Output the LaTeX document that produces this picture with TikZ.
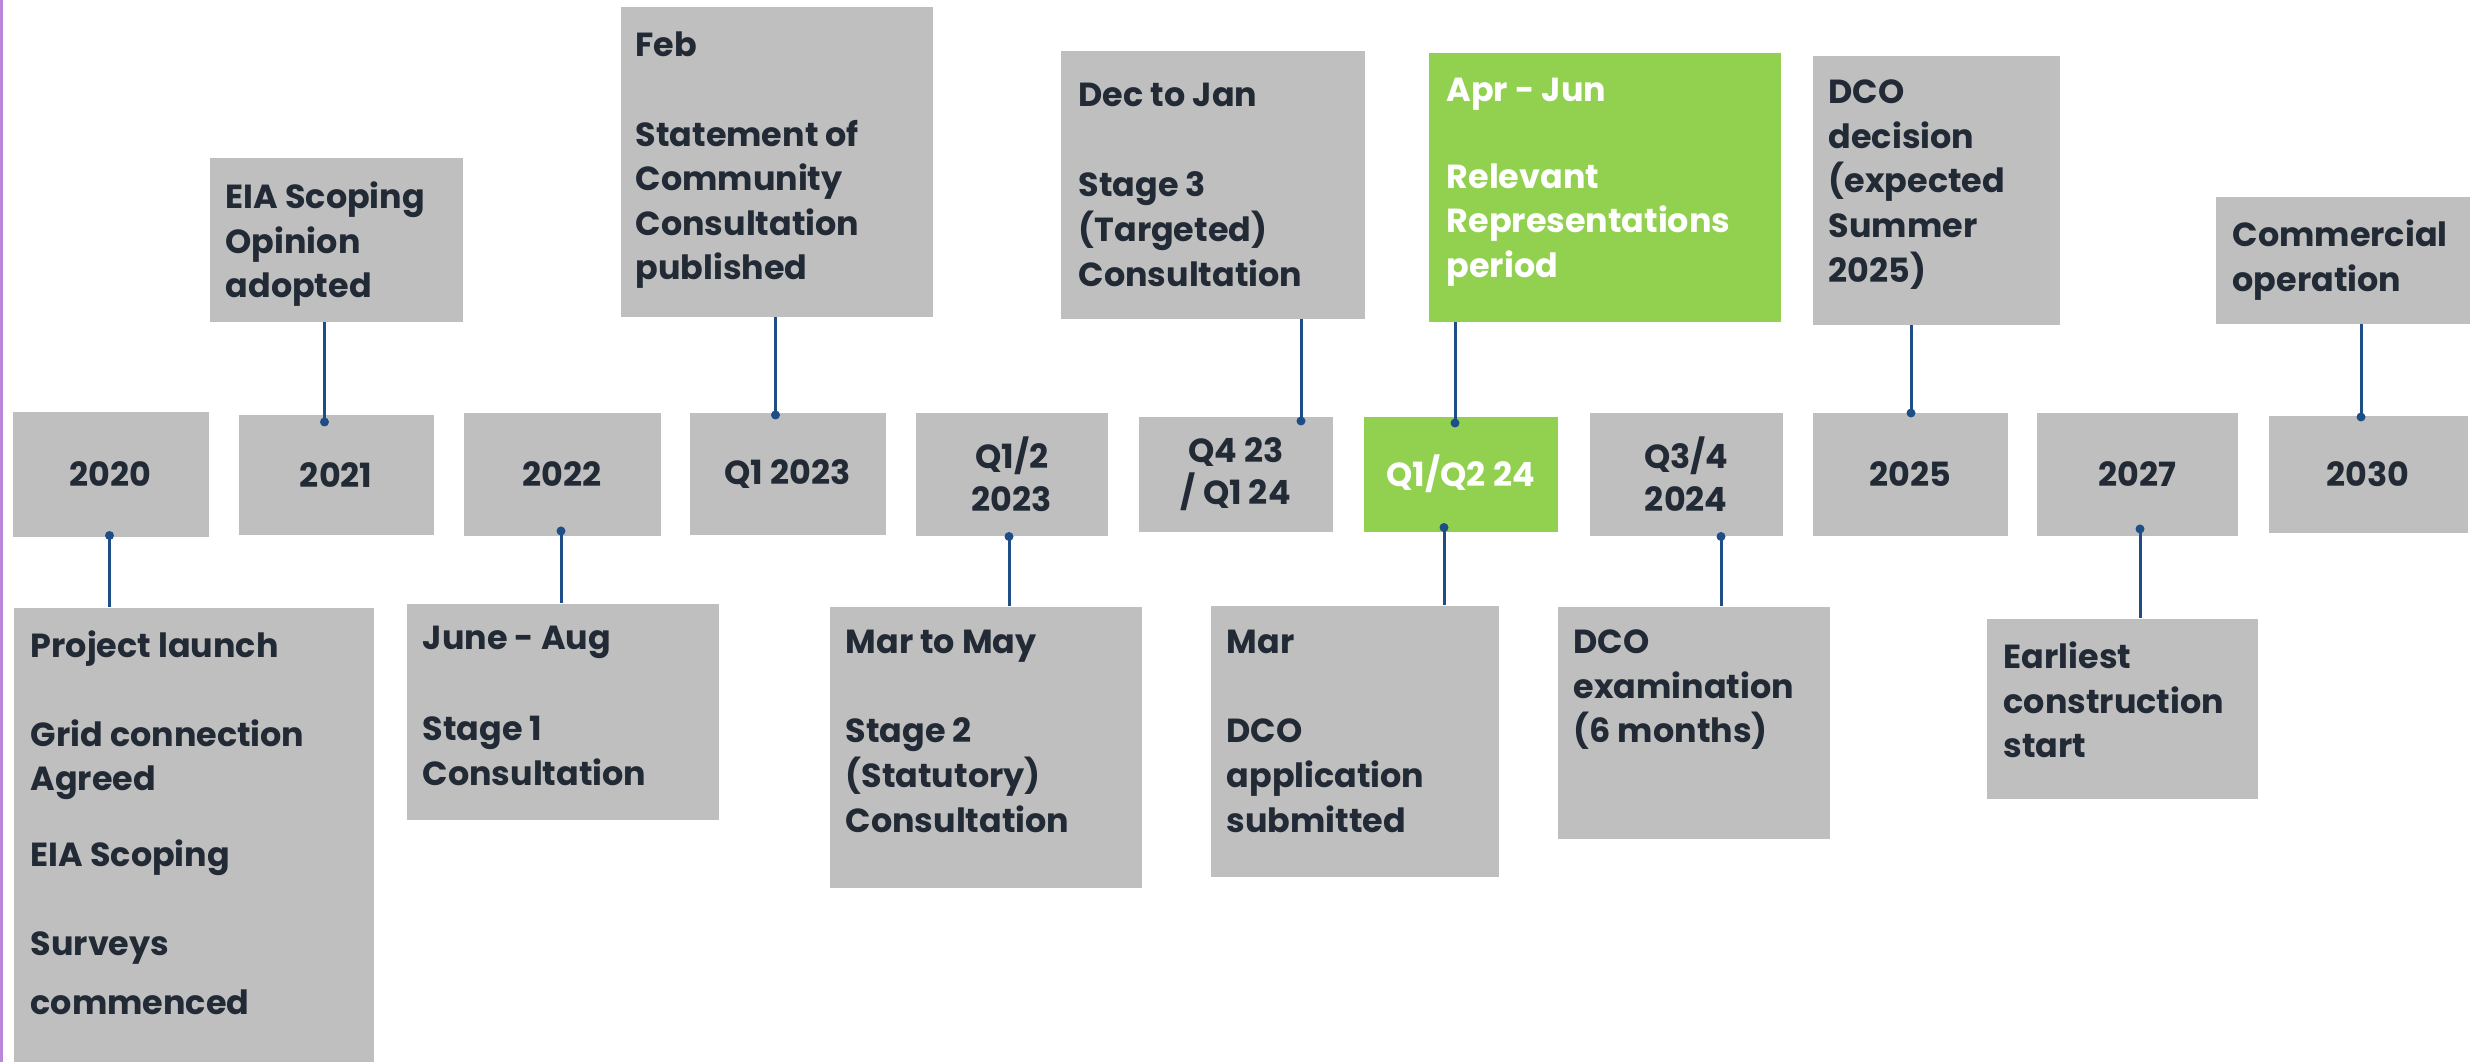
\documentclass[tikz,border=0pt]{standalone}
\usepackage{fontspec}
\setmainfont{Poppins}
\usepackage{tikz}
\usetikzlibrary{calc}

\definecolor{boxgrey}{HTML}{BFBFBF}
\definecolor{tlgreen}{HTML}{92D050}
\definecolor{tlnavy}{HTML}{222A35}
\definecolor{tlblue}{HTML}{1F4E87}
\definecolor{tlpurple}{HTML}{B987D9}

\tikzset{
  yearbox/.style={fill=boxgrey, anchor=north west, inner sep=0pt, align=center, text=tlnavy, font=\bfseries\fontsize{9.5}{12.2}\selectfont},
  greenyear/.style={yearbox, fill=tlgreen, text=white},
  eventbox/.style={fill=boxgrey, anchor=north west, inner sep=0pt},
  greenevent/.style={eventbox, fill=tlgreen},
  eventtext/.style={anchor=north west, inner sep=0pt, align=left, text=tlnavy, font=\bfseries\fontsize{9.5}{12.7}\selectfont},
  link/.style={draw=tlblue, line width=0.3mm},
  dot/.style={fill=tlblue}
}

\begin{document}
\begin{tikzpicture}[x=0.1mm,y=-0.1mm]

\useasboundingbox (0,0) rectangle (2473,1062);

\draw[tlpurple, line width=0.3mm] (1.5,0) -- (1.5,1062);

% year row
\node[yearbox, minimum width=19.6mm, minimum height=12.5mm] (y20) at (12,411) {2020};
\node[yearbox, minimum width=19.5mm, minimum height=12mm] (y21) at (238,414) {2021};
\node[yearbox, minimum width=19.7mm, minimum height=12.3mm] (y22) at (463,412) {2022};
\node[yearbox, minimum width=19.6mm, minimum height=12.2mm] (q123) at (689,412) {Q1 2023};
\node[yearbox, minimum width=19.2mm, minimum height=12.3mm] (q1223) at (915,412) {Q1/2\\2023};
\node[yearbox, minimum width=19.4mm, minimum height=11.5mm] (q423) at (1138,416) {Q4 23\\/ Q1 24};
\node[greenyear, minimum width=19.4mm, minimum height=11.5mm] (q124) at (1363,416) {Q1/Q2 24};
\node[yearbox, minimum width=19.3mm, minimum height=12.3mm] (q324) at (1589,412) {Q3/4\\2024};
\node[yearbox, minimum width=19.5mm, minimum height=12.3mm] (y25) at (1812,412) {2025};
\node[yearbox, minimum width=20.1mm, minimum height=12.3mm] (y27) at (2036,412) {2027};
\node[yearbox, minimum width=19.9mm, minimum height=11.7mm] (y30) at (2268,415) {2030};

% events above
\node[eventbox, minimum width=25.3mm, minimum height=16.4mm] (eia) at (209,157) {};
\node[eventtext] at ([shift={(16,24)}]eia.north west) {EIA Scoping\\Opinion\\adopted};

\node[eventbox, minimum width=31.2mm, minimum height=31mm] (feb) at (620,6) {};
\node[eventtext] at ([shift={(15,25)}]feb.north west) {Feb\\[4.5mm]Statement of\\Community\\Consultation\\published};

\node[eventbox, minimum width=30.4mm, minimum height=26.8mm] (dec) at (1060,50) {};
\node[eventtext] at ([shift={(18,32)}]dec.north west) {Dec to Jan\\[4.6mm]Stage 3\\(Targeted)\\Consultation};

\node[greenevent, minimum width=35.2mm, minimum height=26.9mm] (apr) at (1428,52) {};
\node[eventtext, text=white] at ([shift={(18,25)}]apr.north west) {Apr - Jun\\[4.25mm]Relevant\\Representations\\period};

\node[eventbox, minimum width=24.7mm, minimum height=26.9mm] (dco) at (1812,55) {};
\node[eventtext] at ([shift={(16,24)}]dco.north west) {DCO\\decision\\(expected\\Summer\\2025)};

\node[eventbox, minimum width=25.4mm, minimum height=12.7mm] (com) at (2215,196) {};
\node[eventtext] at ([shift={(17,23)}]com.north west) {Commercial\\operation};

% events below
\node[eventbox, minimum width=36mm, minimum height=45.5mm] (launch) at (13,607) {};
\node[eventtext] at ([shift={(17,23)}]launch.north west) {Project launch\\[4.4mm]Grid connection\\Agreed\\[3.15mm]EIA Scoping\\[4.45mm]Surveys\\[1.4mm]commenced};

\node[eventbox, minimum width=31.2mm, minimum height=21.6mm] (june) at (406,603) {};
\node[eventtext] at ([shift={(16,22)}]june.north west) {June - Aug\\[4.7mm]Stage 1\\Consultation};

\node[eventbox, minimum width=31.2mm, minimum height=28.1mm] (marmay) at (829,606) {};
\node[eventtext] at ([shift={(16,23)}]marmay.north west) {Mar to May\\[4.5mm]Stage 2\\(Statutory)\\Consultation};

\node[eventbox, minimum width=28.8mm, minimum height=27.1mm] (mar) at (1210,605) {};
\node[eventtext] at ([shift={(16,24)}]mar.north west) {Mar\\[4.5mm]DCO\\application\\submitted};

\node[eventbox, minimum width=27.2mm, minimum height=23.2mm] (exam) at (1557,606) {};
\node[eventtext] at ([shift={(16,23)}]exam.north west) {DCO\\examination\\(6 months)};

\node[eventbox, minimum width=27.1mm, minimum height=18mm] (earliest) at (1986,618) {};
\node[eventtext] at ([shift={(17,23)}]earliest.north west) {Earliest\\construction\\start};

% links, top
\coordinate (d21) at (324.5,422);
\draw[link] (eia.south -| d21) -- (d21);
\fill[dot] (d21) circle[radius=0.45mm];

\coordinate (dq123) at (775.5,415);
\draw[link] (feb.south -| dq123) -- (dq123);
\fill[dot] (dq123) circle[radius=0.45mm];

\coordinate (dq423) at (1301,421);
\draw[link] (dec.south -| dq423) -- (dq423);
\fill[dot] (dq423) circle[radius=0.45mm];

\coordinate (dq124) at (1455,423);
\draw[link] (apr.south -| dq124) -- (dq124);
\fill[dot] (dq124) circle[radius=0.45mm];

\coordinate (d25) at (1911,413);
\draw[link] (dco.south -| d25) -- (d25);
\fill[dot] (d25) circle[radius=0.45mm];

\coordinate (d30) at (2361,417);
\draw[link] (com.south -| d30) -- (d30);
\fill[dot] (d30) circle[radius=0.45mm];

% links, bottom
\coordinate (d20) at (109.5,535.5);
\draw[link] (d20) -- (launch.north -| d20);
\fill[dot] (d20) circle[radius=0.45mm];

\coordinate (d22) at (561,531);
\draw[link] (d22) -- (june.north -| d22);
\fill[dot] (d22) circle[radius=0.45mm];

\coordinate (dq1223) at (1009,536.5);
\draw[link] (dq1223) -- (marmay.north -| dq1223);
\fill[dot] (dq1223) circle[radius=0.45mm];

\coordinate (dq124b) at (1444,527.5);
\draw[link] (dq124b) -- (mar.north -| dq124b);
\fill[dot] (dq124b) circle[radius=0.45mm];

\coordinate (dq324) at (1721,536.5);
\draw[link] (dq324) -- (exam.north -| dq324);
\fill[dot] (dq324) circle[radius=0.45mm];

\coordinate (d27) at (2140,529);
\draw[link] (d27) -- (earliest.north -| d27);
\fill[dot] (d27) circle[radius=0.45mm];

\end{tikzpicture}
\end{document}
